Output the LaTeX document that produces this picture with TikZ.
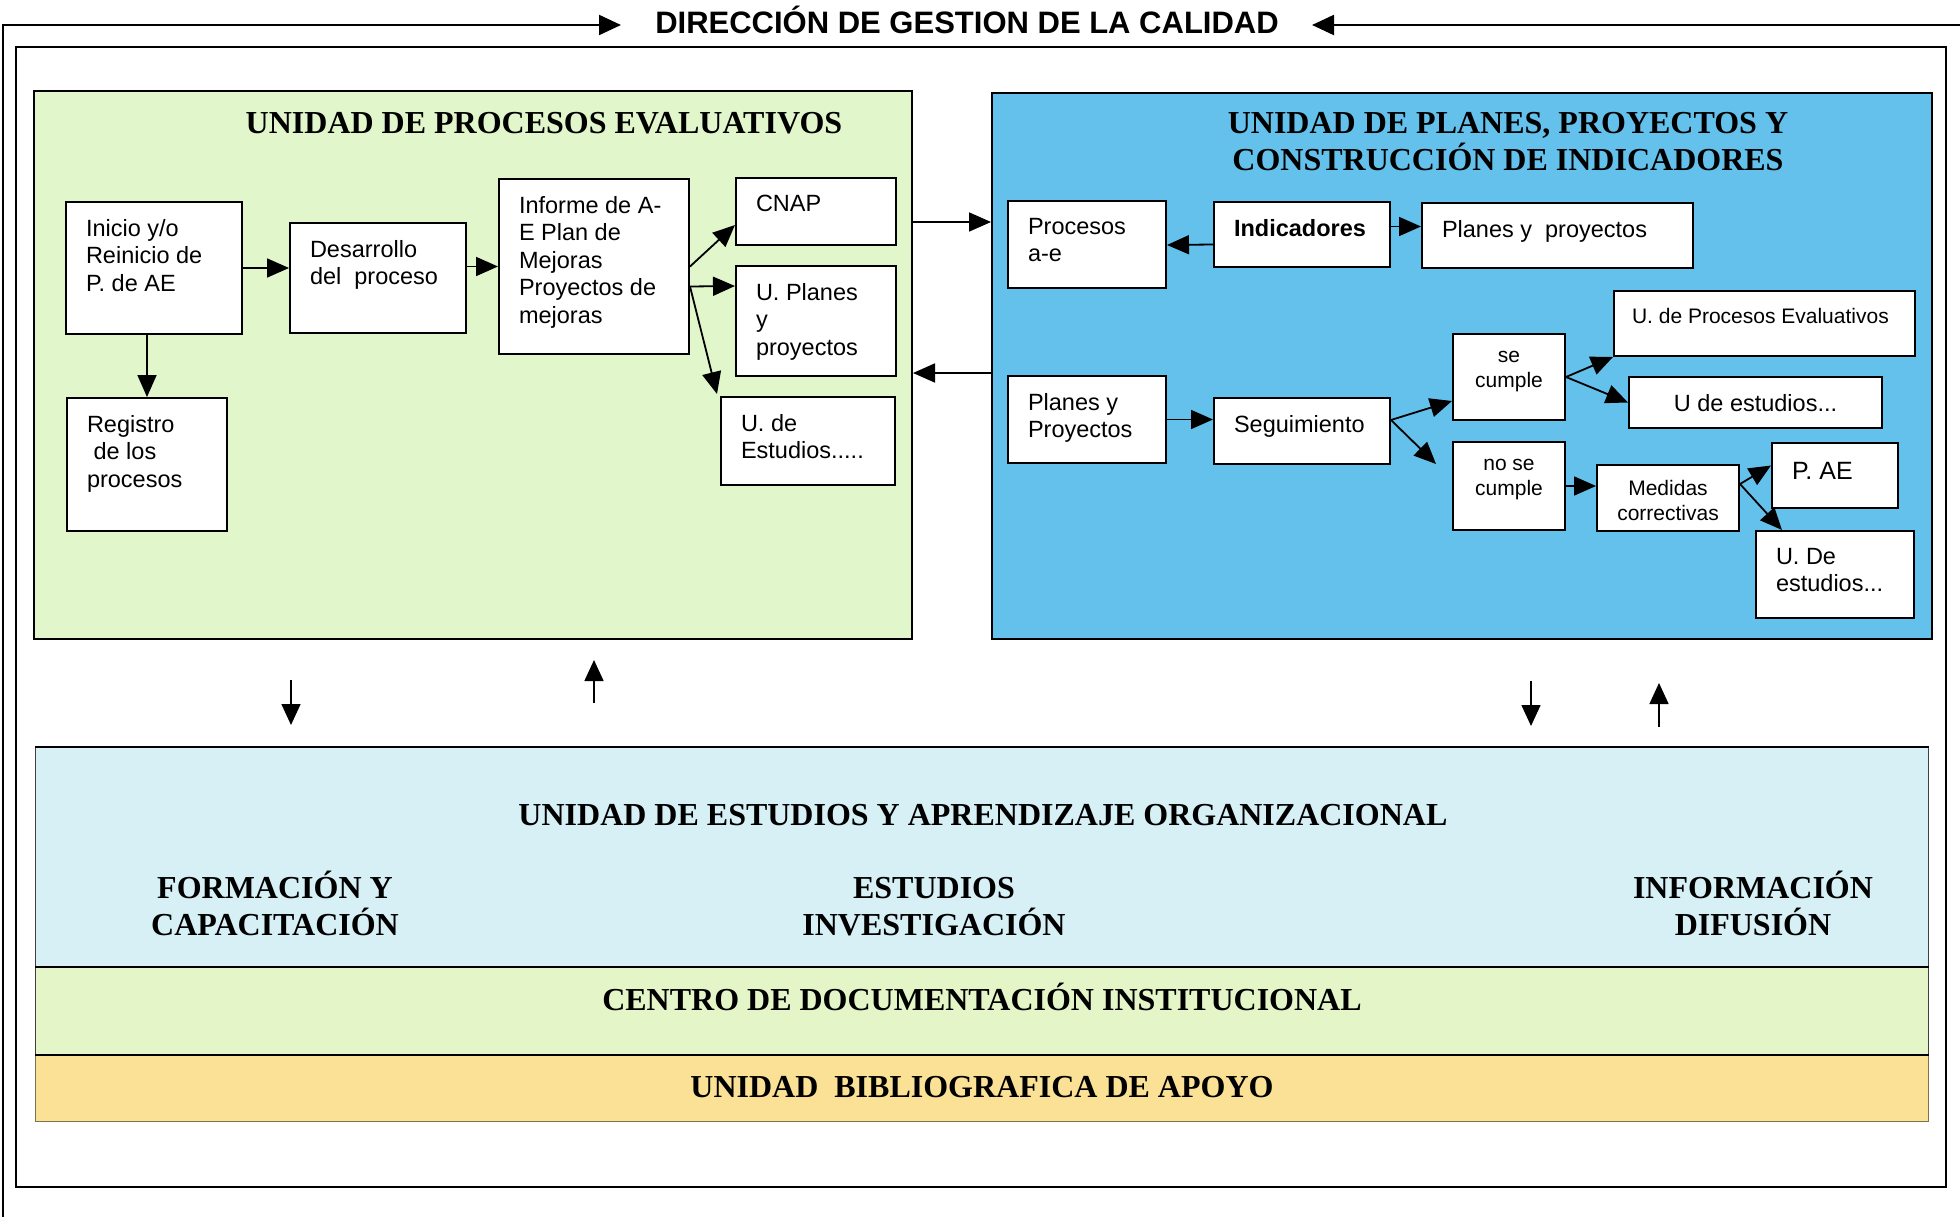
\documentclass[tikz,border=0pt]{standalone}
\usepackage{fontspec}
\setmainfont{Liberation Sans}
\newfontfamily\titulos{Liberation Serif}
\usetikzlibrary{arrows.meta}
\usetikzlibrary{calc}
\definecolor{verdecaja}{RGB}{226,246,204}
\definecolor{azulcaja}{RGB}{100,193,236}
\definecolor{celeste}{RGB}{215,240,246}
\definecolor{verdebanda}{RGB}{228,246,200}
\definecolor{naranja}{RGB}{250,225,150}
\tikzstyle{caja}=[draw,fill=white,line width=2pt,anchor=north west,inner xsep=20pt,inner ysep=17pt,font=\fontsize{23.5}{27.6}\selectfont]
\tikzstyle{chica}=[caja,font=\fontsize{21}{25}\selectfont]
\tikzstyle{seccion}=[draw,line width=2pt,anchor=north west,inner sep=0pt]
\tikzstyle{banda}=[draw=black!75,line width=1pt,anchor=north west,inner sep=0pt,minimum width=1893pt]
\tikzstyle{titulo}=[font=\titulos\bfseries\fontsize{32}{37}\selectfont,anchor=base,align=center,inner sep=0pt]
\tikzstyle{flecha}=[line width=1.8pt,-{Triangle[length=22pt,width=19pt]}]
\tikzstyle{flechita}=[line width=1.5pt,-{Triangle[length=21pt,width=19pt]}]

\begin{document}
\begin{tikzpicture}[x=1pt,y=-1pt]
	\useasboundingbox (0,0) rectangle (1960,1217);
	% marco general
	\node[font=\bfseries\fontsize{31}{36}\selectfont,anchor=base,inner sep=0pt] (dir) at (967,34) {DIRECCIÓN DE GESTION DE LA CALIDAD};
	\coordinate (izq) at (621,25);
	\coordinate (der) at (1312,25);
	\draw[line width=2.2pt,-{Triangle[length=22pt,width=20pt]}] (3,1217) |- (izq);
	\draw[line width=2.2pt,-{Triangle[length=22pt,width=20pt]}] (1960,25) -- (der);
	\draw[line width=2pt] (16,47) rectangle (1946,1187);

	% unidad de procesos evaluativos
	\node[seccion,fill=verdecaja,minimum width=878pt,minimum height=548pt] (uproc) at (33,90) {};
	\node[titulo] (tproc) at (544,134) {UNIDAD DE PROCESOS EVALUATIVOS};
	\node[caja] (inicio) at (65,201) {\parbox[t][98pt][t]{136pt}{Inicio y/o\\Reinicio de\\P. de AE}};
	\node[caja] (desarrollo) at (289,222) {\parbox[t][76pt][t]{136pt}{Desarrollo\\del~ proceso}};
	\node[caja] (informe) at (498,178) {\parbox[t][141pt][t]{150pt}{Informe de A-\\E Plan de\\Mejoras\\Proyectos de\\mejoras}};
	\node[caja] (cnap) at (735,177) {\parbox[t][33pt][t]{120pt}{CNAP}};
	\node[caja] (uplanes) at (735,265) {\parbox[t][76pt][t]{120pt}{U. Planes\\y\\proyectos}};
	\node[caja] (uestudios) at (720,396) {\parbox[t][54pt][t]{134pt}{U. de\\Estudios.....}};
	\node[caja] (registro) at (66,397) {\parbox[t][99pt][t]{120pt}{Registro\\\hspace*{0.28em}de los\\procesos}};
	\draw[flecha] (inicio.east) -- (inicio.east -| desarrollo.west);
	\draw[flecha] (informe.west -| desarrollo.east) -- (informe.west);
	\draw[flecha] (informe.east) -- ($(cnap.south west)+(0,-21)$);
	\draw[flecha] ($(informe.east)+(0,20)$) -- ($(uplanes.north west)+(0,21)$);
	\draw[flecha] ($(informe.east)+(0,20)$) -- ($(uestudios.north west)+(-3,-2)$);
	\draw[flecha] (registro.north |- inicio.south) -- (registro.north);

	% unidad de planes y proyectos
	\node[seccion,fill=azulcaja,minimum width=940pt,minimum height=546pt] (uplan) at (991,92) {};
	\node[titulo] (tplan) at (1508,171) {UNIDAD DE PLANES, PROYECTOS Y\\CONSTRUCCIÓN DE INDICADORES};
	\node[caja] (procesos) at (1007,200) {\parbox[t][53pt][t]{118pt}{Procesos\\a-e}};
	\node[caja] (indicadores) at (1213,201) {\parbox[t][31pt][t]{136pt}{\textbf{Indicadores}}};
	\node[caja] (planes) at (1421,202) {\parbox[t][31pt][t]{231pt}{Planes y~ proyectos}};
	\node[chica,inner xsep=18pt] (upe) at (1613,290) {\parbox[t][31pt][t]{265pt}{U. de Procesos Evaluativos}};
	\node[chica] (secumple) at (1452,333) {\parbox[t][52pt][t]{72pt}{\centering se\\cumple}};
	\node[caja] (udeest) at (1628,376) {\parbox[t][9pt][t]{213pt}{\centering U de estudios...}};
	\node[caja] (planesdos) at (1007,375) {\parbox[t][53pt][t]{118pt}{Planes y\\Proyectos}};
	\node[caja] (seguimiento) at (1213,397) {\parbox[t][32pt][t]{136pt}{Seguimiento}};
	\node[chica] (nosecumple) at (1452,441) {\parbox[t][54pt][t]{72pt}{\centering no se\\cumple}};
	\node[chica,inner xsep=15pt,inner ysep=15pt] (medidas) at (1596,464) {\parbox[t][36pt][t]{112pt}{\centering Medidas\\correctivas}};
	\node[caja,inner ysep=19pt,font=\fontsize{25}{29}\selectfont] (pae) at (1771,442) {\parbox[t][27pt][t]{86pt}{P. AE}};
	\node[caja] (udeestdos) at (1755,530) {\parbox[t][53pt][t]{118pt}{U. De\\estudios...}};
	\draw[flecha] ($(indicadores.west)+(0,10)$) -- ($(procesos.east)+(0,0.5)$);
	\draw[flecha] ($(indicadores.east)+(0,-8)$) -- ($(planes.west)+(0,-9)$);
	\draw[flecha] (planesdos.east) -- (planesdos.east -| seguimiento.west);
	\coordinate (sg) at ($(seguimiento.east)+(0,-11)$);
	\draw[flecha] (sg) -- ($(secumple.west)+(0,24)$);
	\draw[flecha] (sg) -- ($(nosecumple.north west)+(-16,23)$);
	\draw[flecha] (secumple.east) -- (upe.south west);
	\draw[flecha] (secumple.east) -- (udeest.west);
	\draw[flecha] (nosecumple.east) -- (nosecumple.east -| medidas.west);
	\coordinate (md) at ($(medidas.east)+(0,-14)$);
	\draw[flecha] (md) -- ($(pae.west)+(0,-10)$);
	\draw[flecha] (md) -- ($(udeestdos.north west)+(27,0)$);

	% flechas entre unidades
	\coordinate (ida) at ($(uproc.north east)+(0,132)$);
	\coordinate (vuelta) at ($(uplan.north west)+(0,281)$);
	\draw[flecha] (ida) -- (ida -| uplan.west);
	\draw[flecha] (vuelta) -- (vuelta -| uproc.east);
	\draw[flechita] (291,680) -- (291,725);
	\draw[flechita] (594,703) -- (594,660);
	\draw[flechita] (1531,681) -- (1531,726);
	\draw[flechita] (1659,727) -- (1659,683);

	% unidad de estudios
	\node[banda,fill=celeste,minimum height=220pt] (bestudios) at (35,747) {};
	\node[banda,fill=verdebanda,minimum height=88pt] (bcentro) at (35,967) {};
	\node[banda,fill=naranja,draw=black!60!yellow,minimum height=66pt] (bbiblio) at (35,1055) {};
	\draw[line width=2.2pt] (bestudios.north west) -- (bestudios.north east);
	\draw[line width=2.2pt] (bcentro.north west) -- (bcentro.north east);
	\draw[line width=2.2pt] (bbiblio.north west) -- (bbiblio.north east);
	\node[titulo] (tuea) at (983,825) {UNIDAD DE ESTUDIOS Y APRENDIZAJE ORGANIZACIONAL};
	\node[titulo] (tform) at (275,935) {FORMACIÓN Y\\CAPACITACIÓN};
	\node[titulo] (test) at (934,935) {ESTUDIOS\\INVESTIGACIÓN};
	\node[titulo] (tinfo) at (1753,935) {INFORMACIÓN\\DIFUSIÓN};
	\node[titulo] (tcentro) at (982,1010) {CENTRO DE DOCUMENTACIÓN INSTITUCIONAL};
	\node[titulo] (tbiblio) at (982,1097) {UNIDAD\ \ BIBLIOGRAFICA DE APOYO};
\end{tikzpicture}
\end{document}
